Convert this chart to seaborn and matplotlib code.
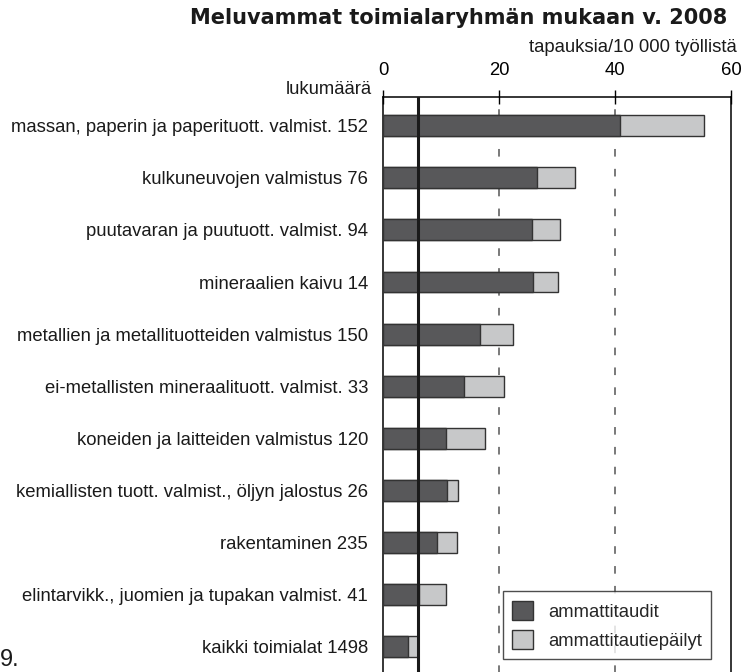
import pandas as pd
import matplotlib
matplotlib.use('Agg')
import matplotlib.pyplot as plt
import seaborn as sns
from matplotlib.patches import Patch

# data
toimialat = ['massan, paperin ja paperituott. valmist. 152',
             'kulkuneuvojen valmistus 76',
             'puutavaran ja puutuott. valmist. 94',
             'mineraalien kaivu 14',
             'metallien ja metallituotteiden valmistus 150',
             'ei-metallisten mineraalituott. valmist. 33',
             'koneiden ja laitteiden valmistus 120',
             'kemiallisten tuott. valmist., öljyn jalostus 26',
             'rakentaminen 235',
             'elintarvikk., juomien ja tupakan valmist. 41',
             'kaikki toimialat 1498']
ammattitaudit = [40.8, 26.5, 25.7, 25.9, 16.6, 13.9, 10.8, 11.0, 9.2, 6.2, 4.2]
epailyt = [14.6, 6.5, 4.8, 4.2, 5.7, 7.0, 6.8, 1.9, 3.5, 4.7, 1.7]
kaikki_keskiarvo = 6.0
x_ticks = [0, 20, 40, 60]

df = pd.DataFrame({'toimiala': toimialat,
                   'ammattitaudit': ammattitaudit,
                   'yhteensa': [a + b for a, b in zip(ammattitaudit, epailyt)]})

tumma = '#58585a'
vaalea = '#c7c8c9'
reuna = '#333333'

sns.set_style('white')
plt.rcParams['font.family'] = ['Liberation Sans', 'DejaVu Sans']

fig = plt.figure(figsize=(7.41, 6.72), dpi=100)
ax = fig.add_axes([0.5173, -0.0045, 0.4692, 0.8602])

# kokonaispalkki ensin (vaalea), tumma osa päälle
sns.barplot(data=df, x='yhteensa', y='toimiala', color=vaalea, width=0.4,
            edgecolor=reuna, linewidth=1.0, saturation=1, ax=ax, zorder=3)
sns.barplot(data=df, x='ammattitaudit', y='toimiala', color=tumma, width=0.4,
            edgecolor=reuna, linewidth=1.0, saturation=1, ax=ax, zorder=4)

ax.set_xlim(0, 60)
ax.set_ylim(10.54, -0.55)
ax.set_xticks(x_ticks)
ax.xaxis.tick_top()
ax.tick_params(axis='x', direction='inout', length=10, width=1, pad=8,
               labelsize=13.3, colors='black', top=True, bottom=False)
ax.tick_params(axis='y', length=0, pad=11, labelsize=13.3)
for lbl in ax.get_yticklabels():
    lbl.set_color('#1a1a1a')
ax.set_xlabel('')
ax.set_ylabel('')

for v in [20, 40]:
    ax.axvline(v, color='#555555', linestyle=(0, (5, 8)), linewidth=1.1, zorder=1)
ax.axvline(kaikki_keskiarvo, color='#1a1a1a', linewidth=2.2, zorder=6)

for side in ['top', 'left', 'right']:
    ax.spines[side].set_visible(True)
    ax.spines[side].set_color('black')
    ax.spines[side].set_linewidth(1.1)
ax.spines['bottom'].set_visible(False)

handles = [Patch(facecolor=tumma, edgecolor=reuna, label='ammattitaudit'),
           Patch(facecolor=vaalea, edgecolor=reuna, label='ammattitautiepäilyt')]
leg = ax.legend(handles=handles, loc='lower left',
                bbox_to_anchor=(503 / 741, 1 - 659 / 672), bbox_transform=fig.transFigure,
                fontsize=13.3, frameon=True, fancybox=False, handlelength=1.15,
                handleheight=1.25, borderpad=0.5, labelspacing=0.5, handletextpad=0.8,
                borderaxespad=0)
leg.get_frame().set_edgecolor('#222222')
leg.get_frame().set_linewidth(1.0)
leg.set_zorder(10)

fig.text(727 / 741, 1 - 18 / 672, 'Meluvammat toimialaryhmän mukaan v. 2008',
         ha='right', va='center', fontsize=15, fontweight='bold',
         family=['DejaVu Sans'], color='#1a1a1a')
fig.text(737 / 741, 1 - 48 / 672, 'tapauksia/10 000 työllistä',
         ha='right', va='center', fontsize=13.3, color='#1a1a1a')
fig.text(372 / 741, 1 - 89 / 672, 'lukumäärä',
         ha='right', va='center', fontsize=13.3, color='#1a1a1a')
fig.text(0.0, 1 / 672, '9.', ha='left', va='bottom', fontsize=17,
         color='#1a1a1a')

fig.savefig('out.png', dpi=100)
